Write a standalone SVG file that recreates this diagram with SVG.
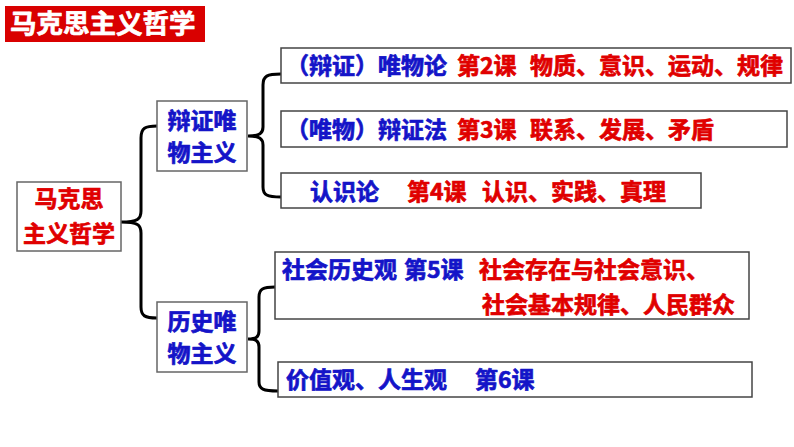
<svg xmlns="http://www.w3.org/2000/svg" width="794" height="447" viewBox="0 0 794 447">
<style>
text{font-family:"Noto Sans CJK SC","Noto Sans",sans-serif;font-weight:bold;font-size:23px;stroke-width:0.7;stroke-linejoin:round}
.b{fill:#1414c8;stroke:#1414c8}
.r{fill:#e00000;stroke:#e00000}
.w{fill:#fff;stroke:#fff}
.box{fill:#fff;stroke:#444;stroke-width:1.5}
.nbox{fill:#fff;stroke:#666;stroke-width:1.5}
.con{fill:none;stroke:#000;stroke-width:3;stroke-linecap:round}
</style>
<rect width="794" height="447" fill="#fff"/>
<g id="title">
<rect x="5" y="6" width="200" height="36" fill="#d90000"/>
<text class="w" x="10" y="33" style="font-size:26.5px">马克思主义哲学</text>
</g>
<g id="connectors">
<path class="con" d="M157,126 C145,126 141,128 141,138 L141,211 C141,219 138,222 121,222 C138,222 141,225 141,233 L141,307 C141,316 145,318 157,318"/>
<path class="con" d="M281,74 C267,74 263,76 263,85 L263,127 C263,133 260,136 248,136 C260,136 263,139 263,145 L263,187 C263,195 267,197 281,197"/>
<path class="con" d="M275,287 C263,287 259,289 259,297 L259,331 C259,337 256,339 248,339 C256,339 259,341 259,347 L259,382 C259,389 263,391 278,391"/>
</g>
<g id="root">
<rect class="nbox" x="17" y="182" width="104" height="69"/>
<text class="r" x="69" y="207" text-anchor="middle">马克思</text>
<text class="r" x="69" y="242" text-anchor="middle">主义哲学</text>
</g>
<g id="dialectical">
<rect class="nbox" x="157" y="101" width="90" height="70"/>
<text class="b" x="202" y="129" text-anchor="middle">辩证唯</text>
<text class="b" x="202" y="161" text-anchor="middle">物主义</text>
</g>
<g id="historical">
<rect class="nbox" x="157" y="302" width="90" height="70"/>
<text class="b" x="202" y="330" text-anchor="middle">历史唯</text>
<text class="b" x="202" y="362" text-anchor="middle">物主义</text>
</g>
<g id="box1">
<rect class="box" x="281" y="48" width="510" height="35"/>
<text class="b" x="286" y="74">（辩证）唯物论</text>
<text class="r" x="457" y="74">第2课</text>
<text class="r" x="530" y="74">物质、意识、运动、规律</text>
</g>
<g id="box2">
<rect class="box" x="281" y="111" width="506" height="36"/>
<text class="b" x="286" y="138">（唯物）辩证法</text>
<text class="r" x="457" y="138">第3课</text>
<text class="r" x="530" y="138">联系、发展、矛盾</text>
</g>
<g id="box3">
<rect class="box" x="281" y="173" width="420" height="35"/>
<text class="b" x="310" y="200">认识论</text>
<text class="r" x="407" y="200">第4课</text>
<text class="r" x="482" y="200">认识、实践、真理</text>
</g>
<g id="box4">
<rect class="box" x="275" y="252" width="474" height="67"/>
<text class="b" x="282" y="278">社会历史观</text>
<text class="b" x="404" y="278">第5课</text>
<text class="r" x="479" y="278">社会存在与社会意识、</text>
<text class="r" x="482" y="313">社会基本规律、人民群众</text>
</g>
<g id="box5">
<rect class="box" x="278" y="362" width="474" height="35"/>
<text class="b" x="286" y="388">价值观、人生观</text>
<text class="b" x="475" y="388">第6课</text>
</g>
</svg>
